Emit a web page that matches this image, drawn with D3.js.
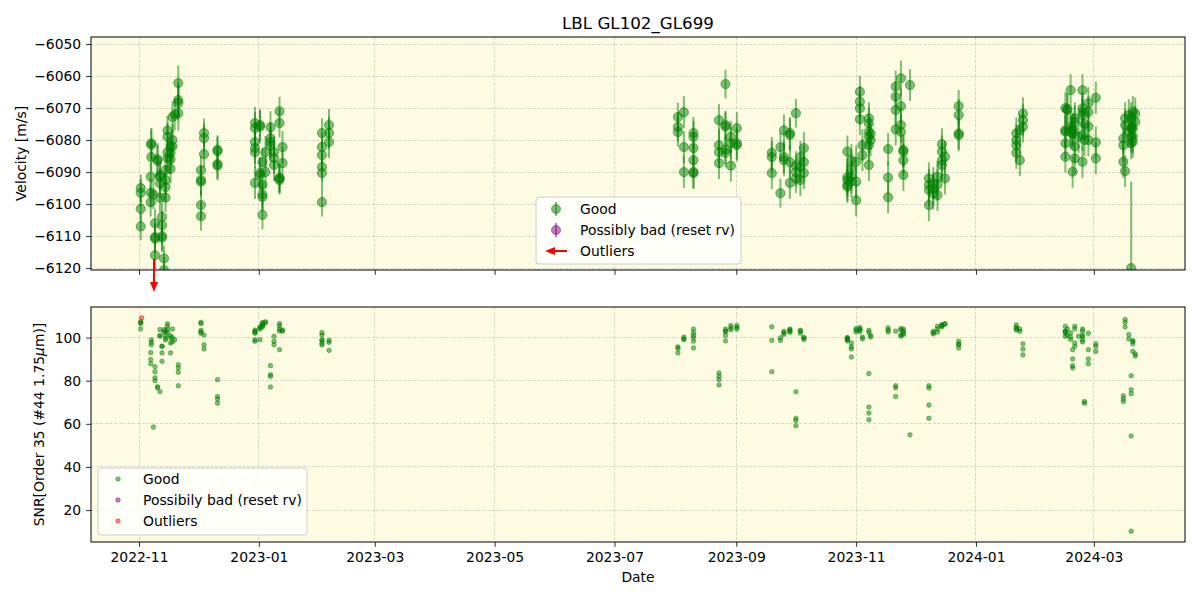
<!DOCTYPE html>
<html><head><meta charset="utf-8">
<script src="https://cdn.jsdelivr.net/npm/d3@7"></script>
<style>body{margin:0;background:#fff} text{font-family:"DejaVu Sans",sans-serif}</style>
</head><body><svg id="c" width="1200" height="600"></svg>
<script>
// ---------- data (groups of observations sharing a time stamp) ----------
const groupDates = [
 "2022-11-01T21:00","2022-11-06T23:00","2022-11-07T06:00","2022-11-08T07:00","2022-11-09T03:00",
 "2022-11-10T10:00","2022-11-11T16:00","2022-11-12T17:00","2022-11-13T17:00","2022-11-14T12:00",
 "2022-11-15T12:00","2022-11-17T01:00","2022-11-18T01:00","2022-11-19T04:00","2022-11-21T00:00",
 "2022-12-02T13:00","2022-12-04T02:00","2022-12-10T23:00",
 "2022-12-30T01:00","2023-01-01T14:00","2023-01-02T20:00","2023-01-04T09:00","2023-01-06T22:00",
 "2023-01-08T17:00","2023-01-11T12:00","2023-01-13T01:00","2023-02-02T03:00","2023-02-05T17:00",
 "2023-08-02T07:00","2023-08-05T08:00","2023-08-10T05:00",
 "2023-08-23T05:00","2023-08-26T12:00","2023-08-29T06:00","2023-09-01T07:00",
 "2023-09-19T02:00","2023-09-23T11:00","2023-09-25T06:00","2023-09-28T07:00","2023-10-01T08:00",
 "2023-10-03T15:00","2023-10-05T10:00",
 "2023-10-27T13:00","2023-10-29T14:00","2023-11-01T00:00","2023-11-02T22:00","2023-11-04T05:00",
 "2023-11-07T12:00","2023-11-08T09:00",
 "2023-11-17T07:00","2023-11-21T03:00","2023-11-23T19:00","2023-11-25T01:00","2023-11-28T10:00",
 "2023-12-08T01:00","2023-12-10T07:00","2023-12-12T10:00","2023-12-14T16:00","2023-12-16T05:00",
 "2023-12-23T05:00",
 "2024-01-21T13:00","2024-01-23T08:00","2024-01-24T22:00",
 "2024-02-15T12:00","2024-02-16T12:00","2024-02-18T04:00","2024-02-19T05:00","2024-02-20T07:00",
 "2024-02-22T05:00","2024-02-24T05:00","2024-02-25T05:00","2024-02-27T05:00","2024-03-02T00:00",
 "2024-03-16T00:00","2024-03-16T22:00","2024-03-18T19:00","2024-03-20T00:00","2024-03-20T00:00",
 "2024-03-20T20:00","2024-03-22T02:00"
];
const groupVelocity = [
 [-6095,-6096.5,-6101.5,-6107],[-6091.5,-6096.5,-6099.4],[-6081,-6081.5,-6085.3],[-6097],[-6110.3,-6110.8,-6116,-6106],
 [-6086,-6086.5],[-6091,-6091.5,-6093.5,-6098],[-6104,-6106.6,-6110,-6110.5],[-6117,-6120.6],[-6094.7,-6098,-6089.4,-6092.5],
 [-6083.8,-6085.6,-6077,-6079],[-6082,-6084,-6086,-6089],[-6072.8,-6080,-6082],[-6072],[-6062.2,-6067.5,-6068.4,-6071.6],
 [-6089.4,-6092.5,-6093,-6100.3,-6103.8],[-6077.8,-6079.4,-6084.4],[-6083,-6083.5,-6087.5,-6088],
 [-6074.7,-6076.3,-6080.6,-6082.5,-6083.8,-6093.4],[-6075.3,-6075.8,-6090.3,-6091],[-6097,-6097.8,-6103.4,-6086.9,-6094],[-6083.8,-6090],[-6076,-6079.4,-6081.6,-6080.6],
 [-6083.8,-6085.6,-6087.8],[-6091.9,-6092.5,-6091.9,-6071,-6074.7],[-6082.2,-6087.2],[-6077.8,-6082.2,-6084.7,-6088.4,-6090.3,-6099.4],[-6075.3,-6077.8,-6080.6],
 [-6072.8,-6075.9,-6077.5],[-6071.3,-6082.2,-6090],[-6077.8,-6079,-6082.5,-6086.3,-6090,-6090.3],
 [-6073.8,-6081.6,-6083.8,-6087.2],[-6062.5,-6075.3,-6075.8,-6083,-6084],[-6079,-6081,-6088],[-6076.3,-6081,-6081.6],
 [-6084,-6085.3,-6090.3],[-6082.2,-6096.6],[-6077,-6085.3,-6086.3],[-6077.8,-6078.4,-6086.9,-6093.4],[-6071.6,-6088,-6092,-6090],
 [-6088.4,-6085.3,-6092.5],[-6082.5,-6090.3,-6086.9],
 [-6091.6,-6094,-6092.5,-6094.6,-6083.6],[-6091.5,-6086.3,-6089,-6093],[-6086.8,-6093,-6098.8],[-6064.9,-6068,-6070.1,-6073.5],[-6081.6,-6084.7],
 [-6073.2,-6074.8,-6077.4,-6079,-6081.6,-6087.8],[-6078,-6080],
 [-6082.8,-6091.7,-6097.9],[-6063.3,-6066.5,-6070.6,-6076.7],[-6060.7,-6069.4,-6075.3,-6077.4],[-6083.6,-6083.1,-6086.3,-6090.9],[-6062.8],
 [-6092,-6094,-6100.3,-6095.6],[-6093.5,-6095.1,-6096.7],[-6094,-6091.5,-6097.2],[-6081.3,-6083.6,-6086.3,-6087.8],[-6085.2,-6092],
 [-6069.4,-6072.2,-6077.9,-6078.5],
 [-6077.9,-6080,-6081.6,-6084],[-6086.3,-6076.9],[-6075.8,-6071.7,-6073.8],
 [-6076.9,-6077.4,-6081,-6085.2,-6070],[-6070.6,-6070.3],[-6064.4,-6076,-6077.5],[-6076.5,-6077,-6089.9,-6078],[-6082,-6085.7,-6074.3,-6073.2],
 [-6079],[-6064.4,-6071.2,-6070.1,-6072.2,-6078.4,-6086.8],[-6075,-6080],[-6068.5,-6071.2,-6075.8,-6080],[-6066.8,-6080.7,-6085.7],
 [-6079.5,-6081.6,-6086.8],[-6073.2,-6075.3,-6089.7],[-6072.2,-6077.4],[-6073.2,-6081,-6076.3,-6079],[-6120],
 [-6071.2,-6076.3,-6079,-6080.5],[-6074.3,-6071.7]
];
const groupError = [
 4.3,4.5,4.8,4.5,4.5, 5,4.5,4.5,4,4.5, 4.5,4.5,5,5,5.5, 4.5,4.5,4.5,
 5,5,4.5,5,5, 5,4.5,5,4.5,5, 4.5,5,5, 5,4.5,5,5,
 5,4.5,5,5,4.5, 5,5, 5,5,5,5,5, 5,5, 5,5,5.5,5,5, 5,5,5,5,5, 5,
 5,5,5, 5,5,5,5,5, 5,5,5,5,5, 5,5,5,5,27, 5,5
];
const groupSnr = [
 [107,106.5,104,107.5],[93,89.8,87.9],[99,97.8,96.7],[58.5],[86.5,84.2,81.4,80],
 [76.7,77.2],[74.9,103.7,100.6,101],[96,92.9,96,89],[103.7,102.6],[101,98.9,99.7,103],
 [106.4,105.3,103.7,102.2],[99.9,97.5,92.9,101],[98,104,100],[99],[87.4,85.9,83.9,77.7],
 [107.1,106.5,103.4,102.6,102],[101.2,96.7,94.7],[80.5,72.7,71.5,69.6],
 [102.5,103,99,98.3,103.5,102],[104,104.5,105,99],[105.5,106,107,106.5,105],[106.8,107.3],[87,82.8,82,77.1],
 [100.6,98.3,96.7],[94.4,103,104,106.5,105.5],[103.5,103],[102.3,101.2,98.7,97.4,96.6,99],[98.7,97.8,94.1],
 [95.7,92.9,95],[100.3,99.4,99],[104,102.3,95.2,99.9,98.3,101],
 [83.6,82.1,80.5,78],[104,102.8,98.5,103,101],[105.6,103.7,104.5],[105.6,104,104.8],
 [105,98.7,84.2],[99.9,98.7],[102.2,102.9,101.5],[104,103.5,103,102.5],[74.9,62.6,61.5,59.1],
 [103.4,103,102],[99.9,99.1,100],
 [99.5,99,100,98.5,99.8],[97.5,95.7,94.7,91],[102.6,103.5,104.2],[104.7,104,103.5,102.8],[100.3,99.4],
 [83.3,67.8,65,61.9,103.4,102.4],[101,100.3],
 [104.5,102.6,103.5],[77.7,76.7,72.7,103],[103.5,101.2,104.2,100.7],[103,102,101.5,104],[54.9],
 [77.7,76.6,68.7,62.6],[102.9,101.7,102.3],[102.6,105.3,104],[105.5,105.8,105,106],[106.5,106.2],
 [98.3,96.7,95.2,97],
 [105.9,103.5,104.2,104.7],[102.9,104],[97.1,94.7,92],
 [105.3,102.9,102.2,100.6,103],[104,101],[102.2,100.3,99.1],[94.4,90.1,87,85.9],[105.3,104,97.5,96],
 [100.6],[100.6,103,104,101,99,98],[69.6,70.4],[94.4,90.1,87.9,102],[97.1,93.6,96],
 [73,71.6,70.4],[108.4,107.1,105],[101.4,99.4],[82.3,75.8,74,54.4],[10.2],
 [98.3,97.1,93.6,98.5],[91.5,92.5]
];
const outlierDates = ["2022-11-02T09:00"];
const outlierSnr = [109.2];
const outlierArrowDates = ["2022-11-08T15:00"];
const velocityTicks = [-6120,-6110,-6100,-6090,-6080,-6070,-6060,-6050];
const velocityLimits = [-6120.6,-6047.8];
const snrTicks = [20,40,60,80,100];
const snrLimits = [5.2,114.2];
const dateTicks = ["2022-11-01","2023-01-01","2023-03-01","2023-05-01","2023-07-01","2023-09-01","2023-11-01","2024-01-01","2024-03-01"];

// ---------- build ----------
const pT = d3.timeParse("%Y-%m-%dT%H:%M"), pD = d3.timeParse("%Y-%m-%d");
const pts = [];
groupDates.forEach((d,i)=>{
  groupVelocity[i].forEach((v,j)=>pts.push({t:pT(d), v, e:groupError[i], snr:groupSnr[i][j]}));
});
const outliers = outlierDates.map((d,i)=>({t:pT(d), snr:outlierSnr[i]}));

const svg = d3.select("#c");
const L=91, R=1185, T1=37, B1=270, T2=307, B2=542;
const green="#008000", purple="#800080", red="#ff0000";
const allT = pts.map(p=>+p.t).concat(outliers.map(o=>+o.t));
const tmin=d3.min(allT), tmax=d3.max(allT), pad=(tmax-tmin)*0.05;
const x = d3.scaleTime().domain([new Date(tmin-pad), new Date(tmax+pad)]).range([L,R]);
const yV = d3.scaleLinear().domain(velocityLimits).range([B1,T1]);
const yS = d3.scaleLinear().domain(snrLimits).range([B2,T2]);

const defs = svg.append("defs");
defs.append("clipPath").attr("id","clip1").append("rect").attr("x",L).attr("y",T1).attr("width",R-L).attr("height",B1-T1);
defs.append("clipPath").attr("id","clip2").append("rect").attr("x",L).attr("y",T2).attr("width",R-L).attr("height",B2-T2);

const bg="#fdfce3";
function panel(top,bottom,y,ticks){
  svg.append("rect").attr("x",L).attr("y",top).attr("width",R-L).attr("height",bottom-top).attr("fill",bg);
  const g=svg.append("g");
  dateTicks.forEach(d=>{g.append("line").attr("x1",x(pD(d))).attr("x2",x(pD(d))).attr("y1",top).attr("y2",bottom);});
  ticks.forEach(t=>{g.append("line").attr("x1",L).attr("x2",R).attr("y1",y(t)).attr("y2",y(t));});
  g.selectAll("line").attr("stroke","#b0b0b0").attr("stroke-opacity",0.6).attr("stroke-width",0.8).attr("stroke-dasharray","3,1.6").attr("shape-rendering","crispEdges");
}
panel(T1,B1,yV,velocityTicks);
panel(T2,B2,yS,snrTicks);

// top data
const g1 = svg.append("g").attr("clip-path","url(#clip1)");
pts.forEach(p=>{
  g1.append("line").attr("x1",x(p.t)).attr("x2",x(p.t)).attr("y1",yV(p.v-p.e)).attr("y2",yV(p.v+p.e))
    .attr("stroke",green).attr("stroke-opacity",0.5).attr("stroke-width",2);
  g1.append("circle").attr("cx",x(p.t)).attr("cy",yV(p.v)).attr("r",4.6)
    .attr("fill",green).attr("fill-opacity",0.5).attr("stroke",green).attr("stroke-opacity",0.5).attr("stroke-width",1);
});
// bottom data
const g2 = svg.append("g").attr("clip-path","url(#clip2)");
pts.forEach(p=>{
  g2.append("circle").attr("cx",x(p.t)).attr("cy",yS(p.snr)).attr("r",2.3)
    .attr("fill",green).attr("fill-opacity",0.5).attr("stroke",green).attr("stroke-opacity",0.5).attr("stroke-width",0.8);
});
outliers.forEach(o=>{
  g2.append("circle").attr("cx",x(o.t)).attr("cy",yS(o.snr)).attr("r",2.3)
    .attr("fill",red).attr("fill-opacity",0.5).attr("stroke",red).attr("stroke-opacity",0.5).attr("stroke-width",0.8);
});

// axes
function styleAxis(sel){
  sel.select(".domain").remove();
  sel.selectAll(".tick line").attr("stroke","#000").attr("stroke-width",0.8);
  sel.selectAll(".tick text").attr("font-family","DejaVu Sans").attr("font-size","13.9px").attr("fill","#000");
}
const numFmt = d3.format("d");
svg.append("g").attr("transform",`translate(${L},0)`).call(d3.axisLeft(yV).tickValues(velocityTicks).tickSize(4.9).tickPadding(4.9).tickFormat(numFmt)).call(styleAxis);
svg.append("g").attr("transform",`translate(${L},0)`).call(d3.axisLeft(yS).tickValues(snrTicks).tickSize(4.9).tickPadding(4.9).tickFormat(numFmt)).call(styleAxis);
svg.append("g").attr("transform",`translate(0,${B1})`).call(d3.axisBottom(x).tickValues(dateTicks.map(pD)).tickSize(4.9).tickFormat("")).call(styleAxis);
svg.append("g").attr("transform",`translate(0,${B2})`).call(d3.axisBottom(x).tickValues(dateTicks.map(pD)).tickSize(4.9).tickPadding(4.9).tickFormat(d3.timeFormat("%Y-%m"))).call(styleAxis);

// spines
[[T1,B1],[T2,B2]].forEach(([t,b])=>svg.append("rect").attr("x",L).attr("y",t).attr("width",R-L).attr("height",b-t)
  .attr("fill","none").attr("stroke","#000").attr("stroke-width",1));

// outlier arrows
outlierArrowDates.forEach(d=>{
  const xa = x(pT(d));
  svg.append("line").attr("x1",xa).attr("x2",xa).attr("y1",259).attr("y2",283).attr("stroke",red).attr("stroke-width",2);
  svg.append("path").attr("d",`M${xa-4},${282} L${xa+4},${282} L${xa},${292} Z`).attr("fill",red);
});

// labels
svg.append("text").attr("x",(L+R)/2).attr("y",29).attr("text-anchor","middle").attr("font-size","16.7px").text("LBL GL102_GL699");
svg.append("text").attr("transform",`translate(26,${(T1+B1)/2}) rotate(-90)`).attr("text-anchor","middle").attr("font-size","13.9px").text("Velocity [m/s]");
const sl = svg.append("text").attr("transform",`translate(44,${(T2+B2)/2}) rotate(-90)`).attr("text-anchor","middle").attr("font-size","13.9px");
sl.append("tspan").text("SNR[Order 35 (#44 1.75");
sl.append("tspan").attr("font-style","italic").text("μ");
sl.append("tspan").text("m)]");
svg.append("text").attr("x",(L+R)/2).attr("y",582).attr("text-anchor","middle").attr("font-size","13.9px").text("Date");

// legend top
const lg1 = svg.append("g");
lg1.append("rect").attr("x",536).attr("y",197).attr("width",205).attr("height",67).attr("rx",3)
  .attr("fill","#fff").attr("fill-opacity",0.8).attr("stroke","#cccccc").attr("stroke-width",1);
[["Good",green],["Possibly bad (reset rv)",purple]].forEach(([lab,c],i)=>{
  const cy=209+i*21;
  lg1.append("line").attr("x1",556).attr("x2",556).attr("y1",cy-7).attr("y2",cy+7).attr("stroke",c).attr("stroke-opacity",0.5).attr("stroke-width",2);
  lg1.append("circle").attr("cx",556).attr("cy",cy).attr("r",4.5).attr("fill",c).attr("fill-opacity",0.5).attr("stroke",c).attr("stroke-opacity",0.5);
  lg1.append("text").attr("x",580).attr("y",cy+5).attr("font-size","13.9px").text(lab);
});
lg1.append("line").attr("x1",567).attr("x2",554).attr("y1",251).attr("y2",251).attr("stroke",red).attr("stroke-width",2);
lg1.append("path").attr("d","M555,247 L555,255 L545,251 Z").attr("fill",red);
lg1.append("text").attr("x",580).attr("y",256).attr("font-size","13.9px").text("Outliers");

// legend bottom
const lg2 = svg.append("g");
lg2.append("rect").attr("x",98).attr("y",468).attr("width",209).attr("height",67).attr("rx",3)
  .attr("fill","#fff").attr("fill-opacity",0.8).attr("stroke","#cccccc").attr("stroke-width",1);
[["Good",green],["Possibily bad (reset rv)",purple],["Outliers",red]].forEach(([lab,c],i)=>{
  const cy=479+i*21;
  lg2.append("circle").attr("cx",118).attr("cy",cy).attr("r",2.3).attr("fill",c).attr("fill-opacity",0.5).attr("stroke",c).attr("stroke-opacity",0.5).attr("stroke-width",0.8);
  lg2.append("text").attr("x",143).attr("y",cy+5).attr("font-size","13.9px").text(lab);
});
</script></body></html>
